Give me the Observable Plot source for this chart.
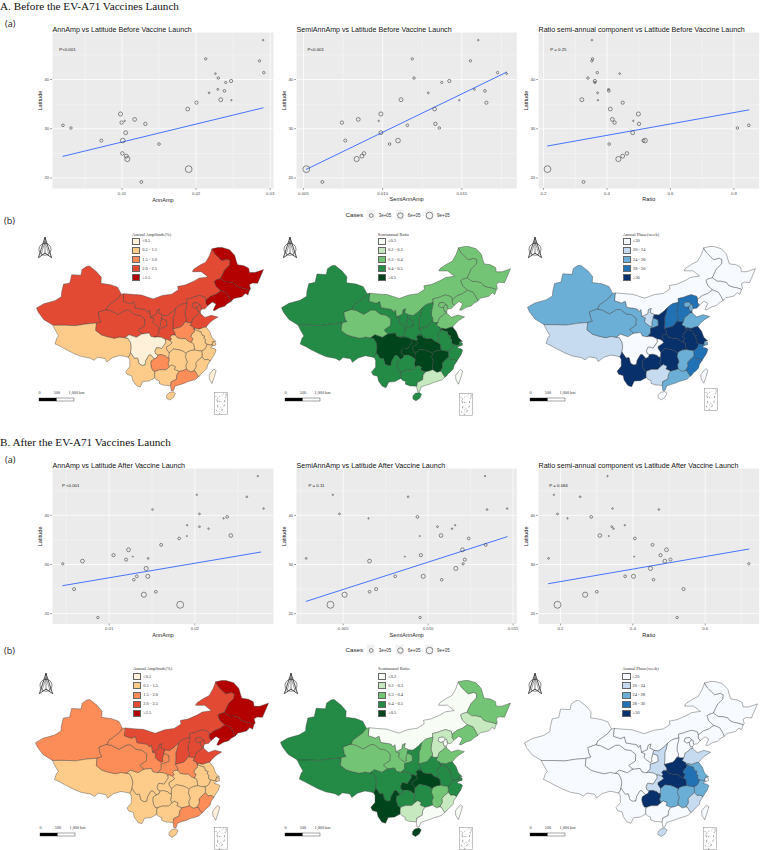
<!DOCTYPE html>
<html>
<head>
<meta charset="utf-8">
<script src="https://cdn.jsdelivr.net/npm/d3@7"></script>
<script src="https://cdn.jsdelivr.net/npm/@observablehq/plot@0.6"></script>
<style>
html,body{margin:0;padding:0;background:#fff;width:761px;height:850px;overflow:hidden}
#page{position:relative;width:761px;height:850px;overflow:hidden}
.abs{position:absolute}
.abs svg{display:block;overflow:visible}
.head{position:absolute;font-family:"Liberation Serif",serif;font-size:11.2px;color:#111;white-space:nowrap;line-height:12px}
.sub{position:absolute;font-family:"Open Sans",sans-serif;font-size:9px;color:#222;line-height:12px}
.lt{position:absolute;font-family:"Liberation Serif",serif;font-size:4.4px;color:#333;white-space:nowrap;line-height:6px}
.sw{position:absolute;width:8.4px;height:7px;box-sizing:border-box;border:0.5px solid #666}
</style>
</head>
<body>
<div id="page"></div>
<script>
// ---------- scatter data (one entry per province, ordered by latitude) ----------
const latitude = [48.0,44.2,43.8,41.4,41.2,40.3,39.7,39.4,38.0,37.7,37.3,35.9,35.8,35.3,34.0,33.0,31.9,31.6,31.25,31.0,30.7,30.15,29.2,27.6,27.6,26.9,25.0,24.45,23.85,21.8,19.2];
const casesA = [5e4,1.2e5,1.2e5,1.2e5,6e4,1.3e5,2.2e5,1e5,8e4,1.6e5,7e4,3.2e5,4e4,2.2e5,3e5,3.5e5,3e5,4e4,2.4e5,2.4e5,1.5e5,1.3e5,3.2e5,2e5,4.5e5,1.5e5,2.6e5,3.2e5,5.5e5,9.5e5,1.8e5];
const casesB = [4e4,4e4,6e4,5e4,6e4,7e4,1.6e5,4e4,4e4,7e4,5e4,2.8e5,2.5e4,1.6e5,1.8e5,3e5,2.2e5,2.5e4,7e4,2e5,3e5,1.1e5,3.5e5,1.6e5,3.5e5,1.4e5,2e5,1.6e5,5.5e5,1e6,1.2e5];
const annAmpA = [.02905,.0213,.02856,.02914,.02261,.0230,.02473,.0240,.02293,.02383,.02176,.02333,.02477,.02005,.01887,.0098,.01171,.01036,.00995,.01315,.00203,.00311,.0105,.00721,.0101,.015,.01005,.01059,.01072,.0190,.01261];
const semiAmpA = [.01604,.01187,.01554,.01726,.01783,.01198,.01421,.01373,.01579,.01646,.01288,.01116,.01484,.01655,.01328,.00989,.00846,.00975,.00743,.01333,.01156,.01358,.00989,.00764,.01097,.01044,.00882,.00869,.00836,.00518,.00619];
const ratioA = [.3526,.3547,.3526,.3695,.44,.34,.362,.362,.405,.406,.3705,.321,.3716,.4495,.4105,.499,.417,.483,.424,.501,.847,.811,.481,.515,.52,.407,.463,.4495,.436,.2126,.326];
const annAmpB = [.02735,.02023,.02607,.02802,.01506,.02054,.02377,.02335,.0191,.02054,.0216,.0242,.01907,.01817,.01607,.01226,.01051,.01276,.01455,.01198,.00689,.00459,.01432,.01323,.01451,.01288,.00591,.01545,.01405,.01829,.00868];
const semiAmpB = [.01335,.00439,.00882,.01465,.01347,.00478,.00937,.00649,.01159,.01055,.01141,.01076,.00951,.01239,.01339,.01202,.00957,.00863,.00282,.01216,.00655,.01206,.01163,.00806,.00971,.0108,.00694,.00655,.00508,.00425,.00953];
const ratioB = [.33,.1816,.2544,.3438,.4719,.1917,.2848,.2194,.3779,.3419,.3465,.3088,.3336,.4055,.4544,.4931,.4765,.4037,.1668,.5041,.4885,.7207,.4488,.3788,.4018,.4571,.5401,.3005,.2682,.1917,.5226];
// fitted trend ends: [x0, lat0, x1, lat1]
const fitAnnA = [.00203,24.4,.02905,34.25];
const fitSemiA = [.00518,21.76,.01783,41.5];
const fitRatioA = [.2126,26.5,.847,33.83];
const fitAnnB = [.00459,25.7,.0277,32.54];
const fitSemiB = [.00282,22.5,.01465,35.66];
const fitRatioB = [.1668,26.1,.7207,33.15];
const latMajor = [20,30,40], latMinor = [25,35,45];
const legendCases = [3e5,6e5,9e5], legendCaseLabels = ["3e+05","6e+05","9e+05"];

// ---------- map data ----------
const provinces = ["Xinjiang","Tibet","Qinghai","Gansu","Ningxia","InnerMongolia","Heilongjiang","Jilin","Liaoning","Hebei","Beijing","Tianjin","Shanxi","Shaanxi","Henan","Shandong","Jiangsu","Shanghai","Anhui","Zhejiang","Fujian","Jiangxi","Hubei","Hunan","Sichuan","Chongqing","Guizhou","Yunnan","Guangxi","Guangdong","Hainan","Taiwan"];
const ampClassA   = [3,1,3,3,3,3,4,4,4,3,3,3,3,3,2,3,1,1,1,1,1,1,1,1,0,1,2,1,1,2,1,0];
const ratioClassA = [3,3,2,3,3,2,2,2,2,2,2,2,3,3,3,2,4,3,3,3,3,4,4,4,4,4,3,3,3,1,3,0];
const phaseClassA = [2,1,2,2,1,0,0,0,0,3,2,2,3,4,4,2,4,2,4,3,3,2,4,4,0,0,4,4,1,2,0,0];
const ampClassB   = [2,1,2,2,3,3,4,4,4,3,3,3,3,2,2,3,1,1,1,1,2,1,1,1,1,1,1,1,1,2,1,0];
const ratioClassB = [3,3,2,2,2,0,2,1,2,1,0,0,2,3,3,2,3,3,3,3,1,2,4,3,3,4,3,4,1,0,4,0];
const phaseClassB = [0,0,0,0,0,0,0,0,0,0,0,0,0,1,4,1,2,0,3,2,1,2,4,2,0,1,4,0,0,0,1,0];
const orRd   = ["#fef0d9","#fdcc8a","#fc8d59","#e34a33","#b30000"];
const greens = ["#f7fcf5","#c7e9c0","#74c476","#238b45","#00441b"];
const blues  = ["#f7fbff","#c6dbef","#6baed6","#2171b5","#08306b"];
const ampLabels   = ["≤0.5","0.5 - 1.5","1.5 - 2.0","2.0 - 2.5","≥2.5"];
const ratioLabels = ["≤0.2","0.2 - 0.3","0.3 - 0.4","0.4 - 0.5","≥0.5"];
const phaseLabels = ["≤20","20 - 24","24 - 28","28 - 30","≥30"];

// province boundary arcs in lon/lat
const arcs = {
 xjOut:[[78,35.5],[75.5,36.8],[74,38.5],[73.5,39.5],[75.5,40.5],[78.5,41.2],[80.2,42.1],[80.3,43.2],[80.8,45],[82.5,45.3],[83,47.2],[85.5,47.1],[85.8,48.4],[87,49.1],[87.8,49.2],[89.7,47.9],[91,46.6],[90.9,45.2],[93.5,44.9],[95.4,44.3],[96.4,42.7]],
 xjGs:[[96.4,42.7],[95.5,41.7],[93.8,40.6],[92.8,40],[92.4,39.1]],
 xjQh:[[92.4,39.1],[90.2,38.4],[90.5,37],[91,36.3],[89.7,36]],
 xjXz:[[89.7,36],[87,35.8],[84,35.4],[81,35.5],[80,35.5],[78,35.5]],
 xzOut:[[78,35.5],[78.5,34.5],[79.5,33],[79,32.5],[78.5,31.2],[80.2,30.5],[81.2,30],[83.5,29],[85.5,28.3],[88,27.9],[89,27.4],[90,28.1],[92,27.8],[92.5,27],[94,28],[96,28.5],[97.3,28.3],[98.3,28.1]],
 xzYn:[[98.3,28.1],[98.6,28.5],[98.9,29.2]],
 xzSc:[[98.9,29.2],[99.1,30.5],[98.9,31.5],[98.2,32.5],[97.4,32.6]],
 xzQh:[[97.4,32.6],[96,32.8],[94.5,32.5],[92.5,32.9],[91,33.3],[89.5,34.3],[89.7,36]],
 qhSc:[[97.4,32.6],[98.5,33.3],[100.5,32.7],[101.8,33.4],[102.2,33.5]],
 qhGs:[[92.4,39.1],[93.5,38.9],[95.5,38],[97.5,39],[98.5,39],[100,38],[101.5,37.8],[102.8,36.9],[102.7,35.4],[101,34.4],[101.5,33.9],[102.2,33.5]],
 gsMn:[[96.4,42.7],[97.2,42.8]],
 gsIm:[[97.2,42.8],[97,41],[98.8,40.5],[99.8,40.9],[100.2,39.5],[102.5,39.2],[103,39.1],[103.5,38.5],[104,39],[104.2,38],[104.3,37.4]],
 gsNx:[[104.3,37.4],[105.2,37],[105,36.2],[105.5,35.7],[106.2,35.3],[106.6,35.1],[107,35.3],[106.9,36],[107.3,37.1]],
 gsSn:[[107.3,37.1],[108.6,36.6],[108.7,35.3],[107.6,34.9],[106.6,34.7],[106.6,33.6],[105.8,32.8],[105.5,32.7]],
 gsSc:[[105.5,32.7],[104.4,32.9],[103.9,33.7],[102.2,33.5]],
 nxIm:[[104.3,37.4],[105,37.7],[105.8,38],[106,39],[106.8,39.3],[106.5,38.3],[107.4,38],[107.6,37.8]],
 nxSn:[[107.6,37.8],[107.3,37.1]],
 imSn:[[107.6,37.8],[108.8,37.7],[110.2,38.6],[111.1,39.4]],
 snSx:[[111.1,39.4],[110.8,38.2],[110.4,37.2],[110.4,35.6],[110.3,34.6]],
 snHen:[[110.3,34.6],[110.9,33.8],[111,33.2]],
 snHub:[[111,33.2],[110,33.2],[109.6,32.7],[110,32.4],[109.6,31.9]],
 snCq:[[109.6,31.9],[108.8,32.2],[108.4,32.2]],
 snSc:[[108.4,32.2],[107.2,32.7],[106.1,32.8],[105.5,32.7]],
 imSx:[[111.1,39.4],[111.9,40],[112.5,40.3],[113.8,40.6],[114.1,40.7]],
 imHe:[[114.1,40.7],[114,41.5],[115.5,41.8],[116,42],[117.5,42.4],[119,42],[119.2,41.3]],
 imLn:[[119.2,41.3],[120.5,42.2],[122,42.7],[123.3,43.5]],
 imJl:[[123.3,43.5],[122,44.5],[121.5,45.7],[122,46],[123.2,46.3]],
 imHl:[[123.2,46.3],[124.3,48.3],[125.7,49.5],[125.8,50.5],[125,50.8],[123.5,50.5],[121.7,52],[120.9,53.2]],
 imOut:[[97.2,42.8],[100,42.6],[101.8,42.5],[105,41.6],[107.5,42.4],[110,42.7],[111.8,43.7],[111.6,44.5],[113.6,44.8],[116,45.7],[117.4,46.4],[119.8,46.7],[118,47.9],[115.6,47.9],[116,48.5],[117.8,49.5],[119.2,50.1],[120.2,51.6],[120.9,53.2]],
 hlOut:[[120.9,53.2],[122.5,53.5],[123.6,53.5],[125.6,53],[127,51.7],[127.5,50.2],[127.8,49.5],[129.5,49.3],[130.8,48.7],[131,47.7],[132.5,47.7],[134.8,48.4],[133.2,45.2],[131.8,45.3],[131,44.9],[131.3,43.9],[131,43.6]],
 hlJl:[[131,43.6],[129.7,44],[128.5,44.2],[127.6,44.5],[127,45.2],[125.5,45.5],[124.5,45.5],[123.2,46.3]],
 jlOut:[[131,43.6],[130.6,42.5],[129.9,42.9],[129,42.1],[128,41.9],[126.8,41.7],[126,41]],
 jlLn:[[126,41],[125.5,42],[124.8,43],[123.3,43.5]],
 lnOut:[[126,41],[125,40.5],[124.3,39.9],[123,39.6],[121.6,38.9],[121.2,39],[122,40.4],[121,40.9],[119.7,40]],
 lnHe:[[119.7,40],[119.2,40.6],[119.2,41.3]],
 heCoN:[[119.7,40],[119,39.3],[118,39.2]],
 tjCo:[[118,39.2],[117.7,38.7]],
 heCoS:[[117.7,38.7],[117.8,38.2]],
 tjHeE:[[118,39.2],[117.9,39.6],[117.8,40.1],[117.4,40.2]],
 tjBj:[[117.4,40.2],[117.2,39.9],[116.9,39.7]],
 tjHeW:[[116.9,39.7],[116.9,39.3],[117.2,38.6],[117.7,38.7]],
 bjHe:[[117.4,40.2],[116.9,40.7],[115.8,40.6],[115.5,39.9],[116.2,39.5],[116.9,39.7]],
 heSx:[[114.1,40.7],[114,40],[113.7,38.9],[113.6,37.8],[114,37],[114,36.4],[113.7,36.3]],
 heHen:[[113.7,36.3],[114.5,36.1],[115.4,36.1]],
 heSd:[[115.4,36.1],[115.8,37.2],[116.7,37.7],[117.2,38.2],[117.8,38.2]],
 sdCo:[[117.8,38.2],[119,37.3],[120.7,37.8],[122.5,37.4],[121,36.6],[120.2,36],[119.3,35.1]],
 sdJs:[[119.3,35.1],[118.4,34.9],[117.5,34.6],[116.4,34.8],[116,34.6]],
 sdHen:[[116,34.6],[116,35],[115,35.5],[115.4,36.1]],
 henJs:[[116,34.6],[116.3,34.5]],
 ahJs:[[116.3,34.5],[117,34.2],[117.9,34],[118.2,33.2],[118.9,33],[118.6,32.5],[119.1,32.2],[119,31.4],[119.6,31.1]],
 jsZj:[[119.6,31.1],[120.5,30.9],[120.9,31]],
 jsSh:[[120.9,31],[121.1,31.5],[121.2,31.7]],
 jsCo:[[121.2,31.7],[121.9,31.8],[120.9,32.6],[120.3,34],[119.3,35.1]],
 shCo:[[121.2,31.7],[121.9,31.4],[121.9,30.9],[121,30.7]],
 shZj:[[121,30.7],[120.9,31]],
 zjCo:[[121,30.7],[120.5,30.3],[121.5,30.1],[122,29.8],[121.6,28.8],[120.9,27.9],[120.4,27.2]],
 zjFj:[[120.4,27.2],[119.6,27.6],[118.9,27.5],[118.2,28.2]],
 zjJx:[[118.2,28.2],[118.2,29],[118.1,29.5]],
 zjAh:[[118.1,29.5],[118.9,29.9],[119.3,30.4],[119.6,31.1]],
 fjCo:[[120.4,27.2],[119.7,26.3],[119.5,25.5],[118.7,24.8],[118.1,24.4],[117.7,23.9],[117.2,23.6]],
 fjGd:[[117.2,23.6],[116.7,24.3],[116.3,24.9],[115.9,24.9]],
 fjJx:[[115.9,24.9],[116.6,25.9],[116.5,26.8],[117.2,27.5],[118.2,28.2]],
 gdCo:[[117.2,23.6],[116.5,23],[115.5,22.7],[114.2,22.4],[113.5,22.1],[112,21.7],[110.9,21.4],[110.5,20.4],[109.9,20.3],[109.7,21.5]],
 gdGx:[[109.7,21.5],[109.9,22.4],[111.3,23],[111.4,24],[112,24.8]],
 gdHn:[[112,24.8],[113,25],[114,25.3]],
 gdJx:[[114,25.3],[114.5,25],[115.1,24.7],[115.9,24.9]],
 gxOut:[[109.7,21.5],[108.5,21.6],[107.9,21.6],[106.7,22],[106.7,22.6],[105.9,22.9],[105.4,23.3]],
 ynGx:[[105.4,23.3],[105.4,24.1],[105.5,24.8]],
 gxGz:[[105.5,24.8],[106.8,25.2],[107.7,25.2],[108.5,25.2],[109.4,25.9]],
 gxHn:[[109.4,25.9],[110,26.3],[111,25.9],[110.7,25.3],[112,24.8]],
 ynOut:[[105.4,23.3],[104.5,22.9],[103.9,22.6],[102.2,22.5],[101.5,21.2],[100.5,21.5],[99.5,22.7],[99.2,23.8],[98,24.1],[97.6,24.8],[98.7,25.9],[98.7,27.5],[98.3,28.1]],
 ynSc:[[98.9,29.2],[99.5,28.4],[100,27.8],[100.8,27.9],[101.2,26.6],[102,26.2],[102.8,26.3],[103,27.3],[103.9,28.6],[104.4,28.6],[105.3,27.7]],
 ynGz:[[105.3,27.7],[104.5,27.3],[104.3,26.6],[104.6,25.5],[105,24.9],[105.5,24.8]],
 scGz:[[105.3,27.7],[106,28],[106.3,28.6]],
 scCq:[[106.3,28.6],[105.7,28.9],[105.5,29.5],[105.9,30.3],[106.5,30.3],[107.3,30.1],[108,31],[108.4,31.5],[108.4,32.2]],
 cqGz:[[106.3,28.6],[107.2,28.7],[108.3,28.4],[108.8,28],[109.2,28]],
 cqHn:[[109.2,28],[109.3,29.1]],
 cqHub:[[109.3,29.1],[108.6,30],[108.6,30.5],[109.5,31],[110.1,31.4],[109.6,31.9]],
 hubHen:[[111,33.2],[111.5,32.6],[112.5,32.4],[113.7,32.4],[114.5,31.8],[115,31.6],[115.3,31.5]],
 hubAh:[[115.3,31.5],[115.9,31.2],[116.1,30.3],[116.1,29.8]],
 hubJx:[[116.1,29.8],[115.2,29.7],[114.3,29.4],[113.9,29]],
 hubHn:[[113.9,29],[113,29.5],[112,29.8],[110.5,30],[109.3,29.1]],
 gzHn:[[109.2,28],[109.3,27.4],[109,26.6],[109.4,25.9]],
 hnJx:[[113.9,29],[113.7,28.2],[114.2,27],[113.8,26.2],[114,25.3]],
 ahJx:[[116.1,29.8],[117.2,29.6],[118.1,29.5]],
 ahHen:[[116.3,34.5],[116,33.8],[115.5,33.5],[115.2,32.8],[115.8,32.4],[115.3,31.5]],
 sxHen:[[110.3,34.6],[111.2,34.8],[112.5,35.1],[113,35.5],[113.7,36.3]],
 hainan:[[108.7,19.3],[108.7,18.6],[109.5,18.2],[110.5,18.8],[111,19.7],[110.4,20.1],[109.3,19.9],[108.7,19.3]],
 taiwan:[[121.5,25.3],[122,25],[121.5,23.5],[120.9,22],[120.2,23],[120.1,24],[121,25],[121.5,25.3]]
};
const rings = {
 Xinjiang:["xjOut","xjGs","xjQh","xjXz"], Tibet:["xzOut","xzYn","xzSc","xzQh","xjXz"], Qinghai:["xjQh","xzQh","qhSc","qhGs"],
 Gansu:["xjGs","gsMn","gsIm","gsNx","gsSn","gsSc","qhGs"], Ningxia:["gsNx","nxSn","nxIm"],
 InnerMongolia:["imOut","imHl","imJl","imLn","imHe","imSx","imSn","nxIm","gsIm"], Heilongjiang:["hlOut","hlJl","imHl"],
 Jilin:["jlOut","jlLn","imJl","hlJl"], Liaoning:["lnOut","lnHe","imLn","jlLn"],
 Hebei:["imHe","lnHe","heCoN","tjHeE","bjHe","tjHeW","heCoS","heSd","heHen","heSx"], Beijing:["tjBj","bjHe"],
 Tianjin:["tjCo","tjHeE","tjBj","tjHeW"], Shanxi:["imSx","heSx","sxHen","snSx"],
 Shaanxi:["imSn","snSx","snHen","snHub","snCq","snSc","gsSn","nxSn"], Henan:["heHen","sdHen","henJs","ahHen","hubHen","snHen","sxHen"],
 Shandong:["sdCo","sdJs","sdHen","heSd"], Jiangsu:["jsCo","sdJs","henJs","ahJs","jsZj","jsSh"], Shanghai:["shCo","shZj","jsSh"],
 Anhui:["ahJs","zjAh","ahJx","hubAh","ahHen"], Zhejiang:["zjCo","zjFj","zjJx","zjAh","jsZj","shZj"], Fujian:["fjCo","fjGd","fjJx","zjFj"],
 Jiangxi:["zjJx","fjJx","gdJx","hnJx","hubJx","ahJx"], Hubei:["hubHen","hubAh","hubJx","hubHn","cqHub","snHub"],
 Hunan:["hubHn","hnJx","gdHn","gxHn","gzHn","cqHn"], Sichuan:["xzSc","qhSc","gsSc","snSc","scCq","scGz","ynSc"],
 Chongqing:["scCq","cqGz","cqHn","cqHub","snCq"], Guizhou:["ynGz","gxGz","gzHn","cqGz","scGz"],
 Yunnan:["ynOut","xzYn","ynSc","ynGz","ynGx"], Guangxi:["gxOut","ynGx","gxGz","gxHn","gdGx"], Guangdong:["gdCo","gdGx","gdHn","gdJx","fjGd"],
 Hainan:["hainan"], Taiwan:["taiwan"]
};
// South China Sea inset (nine-dash marks, lon/lat) and north arrow outline
const insetDashes = [[[108.6,17.6],[109.4,15.4]],[[109.7,12],[109.6,10]],[[107.5,6.5],[108.4,5.5]],[[111.8,3.4],[112.8,3.0]],[[115.6,6],[116.6,7.6]],[[118.8,10.8],[119.4,12.2]],[[119.6,15.6],[119.7,17]],[[120.6,20],[121.6,21]],[[121.8,24],[122.1,22.6]]];
const insetIslands = [[110,20],[109.5,19],[111.5,16.5],[112.5,16],[114.5,15.5],[114,10],[115,9],[112,8],[113,5],[106,21.5],[108,21.5],[112,21.6],[116,22.9],[118,24.5]];
const arrowOutline = [[50,0],[6,96],[50,74],[94,96],[50,0]];
const arrowSpine = [[50,0],[50,74]];
const arrowBlade = [[50,20],[24,80]];
const arrowBlade2 = [[50,20],[76,80]];

const page = document.getElementById("page");
function place(node,x,y){const d=document.createElement("div");d.className="abs";d.style.left=x+"px";d.style.top=y+"px";d.appendChild(node);page.appendChild(d);}
function head(cls,text,x,y){const d=document.createElement("div");d.className=cls;d.textContent=text;d.style.left=x+"px";d.style.top=y+"px";page.appendChild(d);}

const rows = latitude.map((lat,i)=>({lat,i}));
const rScale = {type:"sqrt",domain:[0,9e5],range:[0,3.3]};
const SANS = '"Liberation Sans",Arial,sans-serif';

function scatter({x:xv,cases,fit,left,top,w,h,domain,major,minor,fmt,title,xlabel,pText,pdx,pdy}){
  const mL=20,mT=12,mB=19,mR=1;
  const p = Plot.plot({
    width:w+mL+mR,height:h+mT+mB,marginLeft:mL,marginTop:mT,marginBottom:mB,marginRight:mR,
    style:{background:"transparent",fontFamily:SANS,overflow:"visible"},
    x:{domain,label:null,axis:null},
    y:{domain:[17.87,49.55],label:null,axis:null},
    r:rScale,
    marks:[
      Plot.frame({fill:"#ebebeb",stroke:null}),
      Plot.gridY(latMinor,{stroke:"#fff",strokeOpacity:1,strokeWidth:.35}),
      Plot.gridX(minor,{stroke:"#fff",strokeOpacity:1,strokeWidth:.35}),
      Plot.gridY(latMajor,{stroke:"#fff",strokeOpacity:1,strokeWidth:.75}),
      Plot.gridX(major,{stroke:"#fff",strokeOpacity:1,strokeWidth:.75}),
      Plot.axisX(major,{tickSize:1.8,tickPadding:1.5,fontSize:4.3,fill:"#4d4d4d",stroke:"#333",strokeWidth:.5,tickFormat:d3.format(fmt),label:null}),
      Plot.axisY(latMajor,{tickSize:1.8,tickPadding:1.5,fontSize:4.3,fill:"#4d4d4d",stroke:"#333",strokeWidth:.5,label:null}),
      Plot.line([[fit[0],fit[1]],[fit[2],fit[3]]],{x:d=>d[0],y:d=>d[1],stroke:"#3366ff",strokeWidth:.9}),
      Plot.dot(rows,{x:d=>xv[d.i],y:"lat",r:d=>cases[d.i],stroke:"#333",strokeWidth:.55,fill:"none"}),
      Plot.text([pText],{frameAnchor:"top-left",dx:pdx,dy:pdy,fontSize:4.4,fill:"#222",textAnchor:"start"}),
      Plot.text([title],{frameAnchor:"top-left",dy:-6,fontSize:7.15,fill:"#111",textAnchor:"start"}),
      Plot.text([xlabel],{frameAnchor:"bottom",dy:13,fontSize:5.6,fill:"#222"}),
      Plot.text(["Latitude"],{frameAnchor:"left",dx:-12.4,rotate:-90,fontSize:5.6,fill:"#222"})
    ]
  });
  place(p,left-mL,top-mT);
}

function casesLegend(left,top){
  const ys=legendCases.map(()=>.5);
  const p = Plot.plot({
    width:110,height:14,margin:0,
    style:{background:"transparent",fontFamily:SANS,overflow:"visible"},
    x:{domain:[legendCases[0],legendCases[2]],range:[25.7,84],axis:null},y:{axis:null,domain:[0,1]},r:rScale,
    marks:[
      Plot.cell(legendCases,{x1:d=>d-42000,x2:d=>d+42000,fill:"#f2f2f2",stroke:null}),
      Plot.rect(legendCases,{x1:d=>d-42000,x2:d=>d+42000,y1:.12,y2:.88,fill:"#f2f2f2"}),
      Plot.dot(legendCases,{x:d=>d,y:ys,r:d=>d,stroke:"#333",strokeWidth:.55,fill:"none"}),
      Plot.text(legendCaseLabels,{x:(d,i)=>legendCases[i],y:ys,dx:7.5,textAnchor:"start",fontSize:4.5,fill:"#333"}),
      Plot.text(["Cases"],{frameAnchor:"left",fontSize:6.2,fill:"#222",textAnchor:"start"})
    ].filter((m,i)=>i!==0)
  });
  place(p,left,top);
}

// Build GeoJSON from shared arcs, chaining each ring by nearest arc ends
function dist(a,b){return Math.hypot(a[0]-b[0],a[1]-b[1]);}
function buildRing(names){
  const list = names.map(n=>{ if(!arcs[n]) throw new Error("missing arc "+n); return arcs[n]; });
  if(list.length===1) return list[0].slice();
  let first=list[0];
  const nx=list[1];
  const e0=first[first.length-1], s0=first[0];
  if(Math.min(dist(s0,nx[0]),dist(s0,nx[nx.length-1])) < Math.min(dist(e0,nx[0]),dist(e0,nx[nx.length-1]))) first=first.slice().reverse();
  const out=first.slice();
  for(let k=1;k<list.length;k++){
    let a=list[k]; const end=out[out.length-1];
    if(dist(end,a[a.length-1])<dist(end,a[0])) a=a.slice().reverse();
    out.push(...a.slice(1));
  }
  const s=out[0],t=out[out.length-1];
  if(s[0]!==t[0]||s[1]!==t[1]) out.push(s.slice());
  return out;
}
const features = provinces.map(name=>{
  let ring = buildRing(rings[name]);
  let f = {type:"Feature",properties:{name},geometry:{type:"Polygon",coordinates:[ring]}};
  if(d3.geoArea(f)>2*Math.PI){ f.geometry.coordinates=[ring.slice().reverse()]; }
  return f;
});
const collection = {type:"FeatureCollection",features};

function stretchProjection(w,h){
  const base = d3.geoEquirectangular().rotate([-105,0]).scale(100).translate([0,0]).precision(.05);
  const [[x0,y0],[x1,y1]] = d3.geoPath(base).bounds(collection);
  const sx=w/(x1-x0), sy=h/(y1-y0);
  const stretch = d3.geoTransform({point(x,y){this.stream.point((x-x0)*sx,(y-y0)*sy);}});
  return {stream:s=>base.stream(stretch.stream(s))};
}

function china({left,top,w,h,classes,palette}){
  const p = Plot.plot({
    width:w,height:h,margin:0,
    style:{background:"transparent",overflow:"visible"},
    projection:stretchProjection(w,h),
    color:{type:"ordinal",domain:[0,1,2,3,4],range:palette},
    marks:[Plot.geo(features,{fill:(d,i)=>classes[provinces.indexOf(d.properties.name)],stroke:"#3a3a3a",strokeWidth:.4})]
  });
  place(p,left,top);
}

function northArrow(left,top){
  const p = Plot.plot({
    width:15,height:21,margin:0,style:{background:"transparent",overflow:"visible"},
    x:{domain:[0,100],axis:null},y:{domain:[100,0],axis:null},
    marks:[
      Plot.dot([[50,56]],{x:d=>d[0],y:d=>d[1],r:6,stroke:"#222",strokeWidth:.55,fill:"none"}),
      Plot.line(arrowOutline,{x:d=>d[0],y:d=>d[1],stroke:"#111",strokeWidth:.75}),
      Plot.line(arrowSpine,{x:d=>d[0],y:d=>d[1],stroke:"#111",strokeWidth:.5}),
      Plot.line(arrowBlade,{x:d=>d[0],y:d=>d[1],stroke:"#111",strokeWidth:.4}),
      Plot.line(arrowBlade2,{x:d=>d[0],y:d=>d[1],stroke:"#111",strokeWidth:.4})
    ]
  });
  place(p,left,top);
}

const barSegments = [{a:0,b:500,f:"#000"},{a:500,b:1000,f:"#fff"}];
const barTicks = [0,500];
function scaleBar(left,top){
  const p = Plot.plot({
    width:56,height:12,marginLeft:0,marginRight:21,marginTop:0,marginBottom:0,style:{background:"transparent",overflow:"visible"},
    x:{domain:[0,1000],axis:null},y:{domain:[0,1],axis:null},
    marks:[
      Plot.rect(barSegments,{x1:"a",x2:"b",y1:0,y2:.25,fill:"f",stroke:"#222",strokeWidth:.4}),
      Plot.text(barTicks,{x:d=>d,y:.72,text:d=>String(d),fontSize:4.2,fontFamily:"Liberation Serif",fill:"#333"}),
      Plot.text(["1,000 km"],{x:1000,y:.72,fontSize:4.2,fontFamily:"Liberation Serif",fill:"#333",dx:2})
    ]
  });
  place(p,left,top);
}

function inset(left,top){
  const p = Plot.plot({
    width:13,height:22,margin:0,style:{background:"transparent",overflow:"visible"},
    x:{domain:[105,124],axis:null},y:{domain:[2,25.5],axis:null},
    marks:[
      Plot.frame({stroke:"#888",strokeWidth:.5,fill:"#fff"}),
      ...insetDashes.map(s=>Plot.line(s,{x:d=>d[0],y:d=>d[1],stroke:"#222",strokeWidth:.4})),
      Plot.dot(insetIslands,{x:d=>d[0],y:d=>d[1],r:.3,fill:"#222"})
    ]
  });
  place(p,left,top);
}

function mapLegend(x,yTitle,yFirst,title,labels,palette){
  const t=document.createElement("div");t.className="lt";t.textContent=title;t.style.left=x+"px";t.style.top=(yTitle-3)+"px";page.appendChild(t);
  labels.forEach((l,i)=>{
    const y=yFirst+i*9.15;
    const s=document.createElement("div");s.className="sw";s.style.left=x+"px";s.style.top=y+"px";s.style.background=palette[i];page.appendChild(s);
    const d=document.createElement("div");d.className="lt";d.textContent=l;d.style.left=(x+10.3)+"px";d.style.top=(y+.5)+"px";page.appendChild(d);
  });
}

// ---------- Section A ----------
head("head","A. Before the EV-A71 Vaccines Launch",0,0);
head("sub","(a)",5,18);
head("sub","(b)",4,215);
scatter({x:annAmpA,cases:casesA,fit:fitAnnA,left:52.3,top:32.3,w:221,h:156,domain:[.00062,.03045],major:[.01,.02,.03],minor:[.005,.015,.025],fmt:".2f",title:"AnnAmp vs Latitude Before Vaccine Launch",xlabel:"AnnAmp",pText:"P<0.001",pdx:6.7,pdy:15.7});
scatter({x:semiAmpA,cases:casesA,fit:fitSemiA,left:295.7,top:32.3,w:220.3,h:156,domain:[.00456,.01847],major:[.005,.01,.015],minor:[.0075,.0125,.0175],fmt:".3f",title:"SemiAnnAmp vs Latitude Before Vaccine Launch",xlabel:"SemiAnnAmp",pText:"P<0.001",pdx:11,pdy:15.7});
scatter({x:ratioA,cases:casesA,fit:fitRatioA,left:538.3,top:32.3,w:220.7,h:156,domain:[.1843,.8797],major:[.2,.4,.6,.8],minor:[.3,.5,.7],fmt:".1f",title:"Ratio semi-annual component vs Latitude Before Vaccine Launch",xlabel:"Ratio",pText:"P = 0.25",pdx:11.7,pdy:15.7});
casesLegend(345,208);

china({left:36,top:246.5,w:227,h:152.5,classes:ampClassA,palette:orRd});
china({left:281,top:245.7,w:229,h:154.3,classes:ratioClassA,palette:greens});
china({left:527,top:245.7,w:228,h:153.3,classes:phaseClassA,palette:blues});
mapLegend(132,234.5,237.7,"Annual Amplitude(%)",ampLabels,orRd);
mapLegend(377.7,234.5,237.7,"Semiannual Ratio",ratioLabels,greens);
mapLegend(622.7,234.5,237.7,"Annual Phase(week)",phaseLabels,blues);
[[37,237],[282,237],[527,237]].forEach(([x,y])=>northArrow(x,y));
[[39.3,388.7],[285,388.7],[530,388.7]].forEach(([x,y])=>scaleBar(x,y));
[[213.5,392],[459.3,392.7],[703.7,387.7]].forEach(([x,y])=>inset(x,y));

// ---------- Section B ----------
head("head","B. After the EV-A71 Vaccines Launch",0,436);
head("sub","(a)",5,454);
head("sub","(b)",4,645);
scatter({x:annAmpB,cases:casesB,fit:fitAnnB,left:52.3,top:467.7,w:221,h:155.6,domain:[.00339,.02918],major:[.01,.02],minor:[.005,.015,.025],fmt:".2f",title:"AnnAmp vs Latitude After Vaccine Launch",xlabel:"AnnAmp",pText:"P <0.001",pdx:9.4,pdy:15.3});
scatter({x:semiAmpB,cases:casesB,fit:fitSemiB,left:295.7,top:467.7,w:220.3,h:155.6,domain:[.00225,.01522],major:[.005,.01,.015],minor:[.0025,.0075,.0125],fmt:".3f",title:"SemiAnnAmp vs Latitude After Vaccine Launch",xlabel:"SemiAnnAmp",pText:"P = 0.11",pdx:12,pdy:15.3});
scatter({x:ratioB,cases:casesB,fit:fitRatioB,left:538.3,top:467.7,w:220.7,h:155.6,domain:[.1392,.7493],major:[.2,.4,.6],minor:[.3,.5,.7],fmt:".1f",title:"Ratio semi-annual component vs Latitude After Vaccine Launch",xlabel:"Ratio",pText:"P = 0.066",pdx:10.7,pdy:15.3});
casesLegend(345,643);

china({left:35,top:680,w:233,h:156.7,classes:ampClassB,palette:orRd});
china({left:280,top:680,w:230,h:156,classes:ratioClassB,palette:greens});
china({left:524,top:681,w:233,h:155,classes:phaseClassB,palette:blues});
mapLegend(133,669.3,673.3,"Annual Amplitude(%)",ampLabels,orRd);
mapLegend(378,669.3,673.3,"Semiannual Ratio",ratioLabels,greens);
mapLegend(622.3,669.3,673.3,"Annual Phase(week)",phaseLabels,blues);
[[38,672.5],[283,672.5],[527,672.5]].forEach(([x,y])=>northArrow(x,y));
[[40,824],[285,824],[530,824]].forEach(([x,y])=>scaleBar(x,y));
[[214,827],[459,827],[703,827]].forEach(([x,y])=>inset(x,y));
</script>
</body>
</html>
